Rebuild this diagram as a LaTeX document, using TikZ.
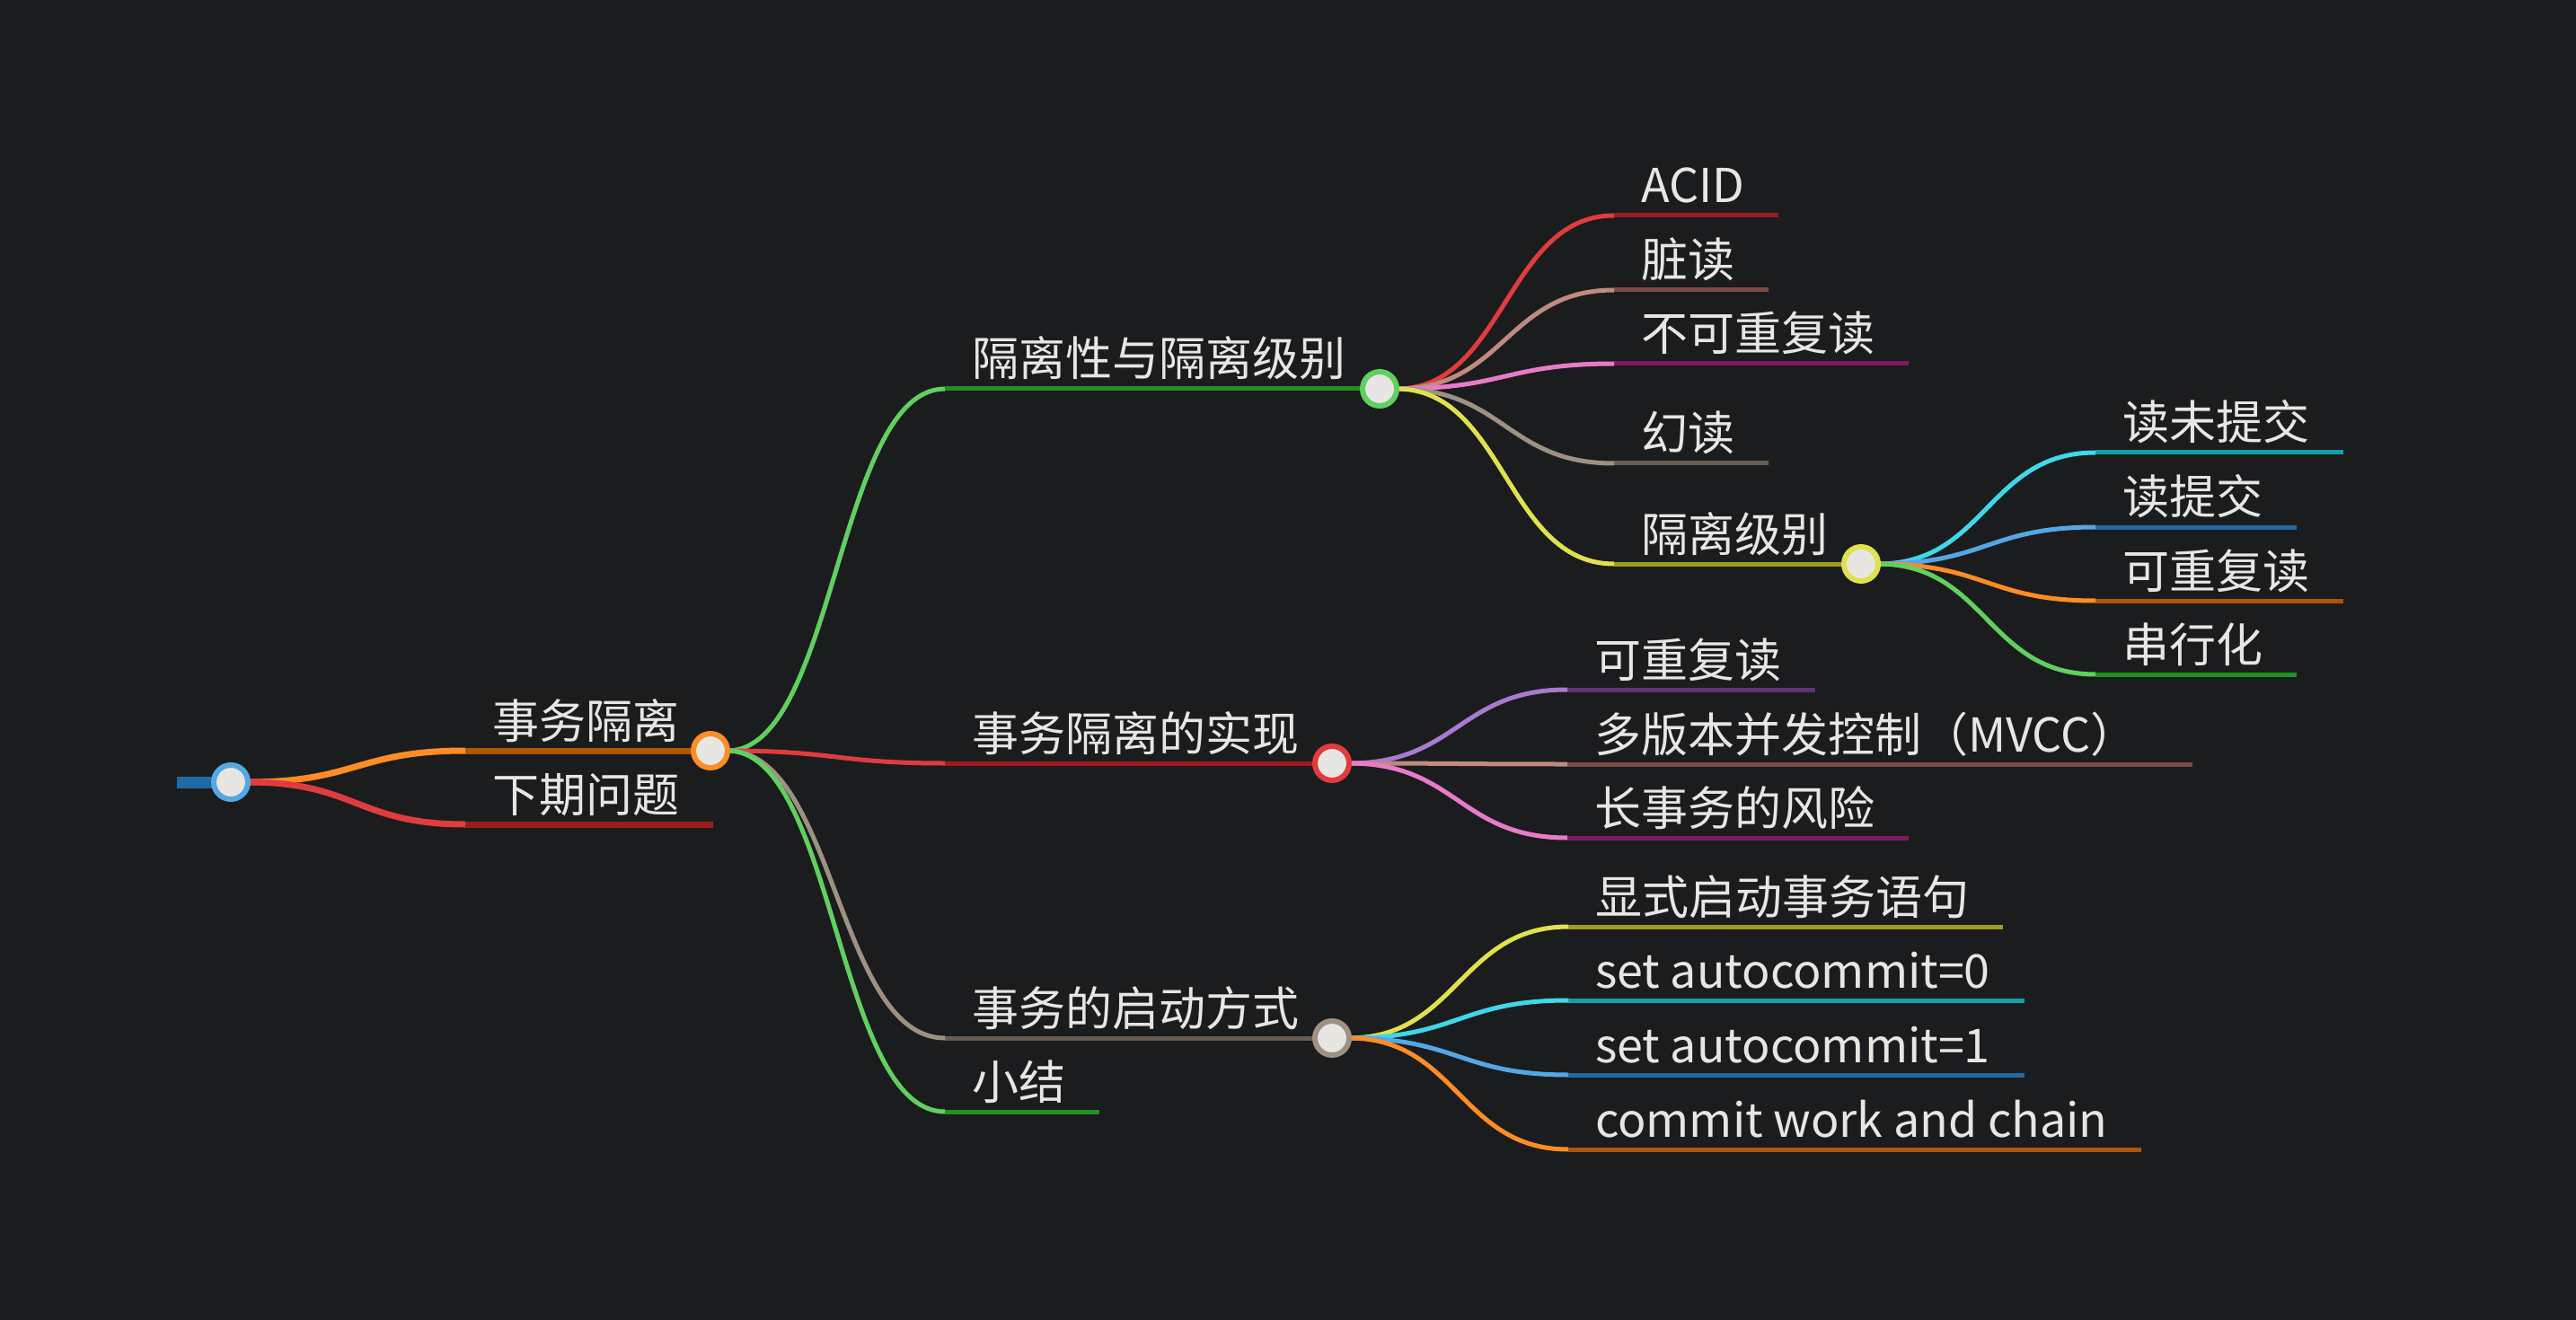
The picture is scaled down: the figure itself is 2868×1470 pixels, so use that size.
\documentclass[tikz,border=0pt]{standalone}
\usepackage{fontspec}
\setmainfont{Noto Sans CJK SC}
\definecolor{mmbg}{HTML}{1B1C1E}
\definecolor{mmdot}{HTML}{E8E6E2}
\definecolor{mmtxt}{HTML}{E8E6E2}
\definecolor{mmblue}{HTML}{53A8E4}
\definecolor{mmbluedk}{HTML}{1F6AA5}
\definecolor{mmor}{HTML}{FF8C25}
\definecolor{mmordk}{HTML}{B05405}
\definecolor{mmred}{HTML}{E03C3E}
\definecolor{mmreddk}{HTML}{9B1C1F}
\definecolor{mmgreen}{HTML}{60D060}
\definecolor{mmgreendk}{HTML}{248F24}
\definecolor{mmtaupe}{HTML}{9D9282}
\definecolor{mmtaupedk}{HTML}{675D52}
\definecolor{mmpurple}{HTML}{A77BD0}
\definecolor{mmpurpledk}{HTML}{5E3478}
\definecolor{mmbrown}{HTML}{BF8B7E}
\definecolor{mmbrowndk}{HTML}{7B4A42}
\definecolor{mmpink}{HTML}{E77BC9}
\definecolor{mmpinkdk}{HTML}{7D1B5E}
\definecolor{mmyellow}{HTML}{E0E14D}
\definecolor{mmyellowdk}{HTML}{9E9E1C}
\definecolor{mmcyan}{HTML}{3FD8EA}
\definecolor{mmcyandk}{HTML}{12A0AA}
\pgfdeclarelayer{bg}
\pgfsetlayers{bg,main}
% leaf: [#1 padding] #2 parent, #3 name, #4 x, #5 y, #6 text, #7 colour, #8 width
\newcommand\mmleaf[8][38]{%
  \coordinate (s#3) at (#4,#5);%
  \node[lbl] (t#3) at (s#3) {#6};%
  \begin{pgfonlayer}{bg}%
    \draw[line width=#8, draw=#7dk] (s#3) -- (s#3 -| t#3.east) -- ++(#1,0);%
    \draw[line width=#8, draw=#7] (#2.east) .. controls ([xshift=60pt]#2.east) and ([xshift=-60pt]s#3) .. (s#3);%
  \end{pgfonlayer}}
% hub: #1 parent, #2 name, #3 x, #4 y, #5 text, #6 colour, #7 width, #8 circle x
\newcommand\mmhub[8]{%
  \coordinate (s#2) at (#3,#4);%
  \node[lbl] (t#2) at (s#2) {#5};%
  \node[dot=#6] (#2) at (#8,#4) {};%
  \begin{pgfonlayer}{bg}%
    \draw[line width=#7, draw=#6dk] (s#2) -- (#2.center);%
    \draw[line width=#7, draw=#6] (#1.east) .. controls ([xshift=60pt]#1.east) and ([xshift=-60pt]s#2) .. (s#2);%
  \end{pgfonlayer}}
\begin{document}
\begin{tikzpicture}[x=0.5pt,y=-0.5pt,
  every node/.style={inner sep=0pt, outer sep=0pt},
  lbl/.style={anchor=base west, xshift=15pt, yshift=7pt, text=mmtxt,
    font=\fontsize{26pt}{30pt}\selectfont},
  dot/.style={circle, draw=#1, fill=mmdot, line width=3pt, minimum size=19pt}]
\begin{pgfonlayer}{bg}
\fill[mmbg] (0,0) rectangle (2868,1470);
\end{pgfonlayer}
\useasboundingbox (0,0) rectangle (2868,1470);
\node[dot=mmblue] (root) at (257,871) {};
\coordinate (rootend) at (197,871);
\begin{pgfonlayer}{bg}
\draw[line width=6.5pt, draw=mmbluedk] (rootend) -- (root.center);
\end{pgfonlayer}
\mmhub{root}{a}{518}{836}{事务隔离}{mmor}{3.5pt}{791}
\mmleaf{root}{b}{518}{918}{下期问题}{mmred}{3.5pt}
\mmhub{a}{aa}{1052}{433}{隔离性与隔离级别}{mmgreen}{2.5pt}{1536}
\mmhub{a}{ab}{1052}{850}{事务隔离的实现}{mmred}{2.5pt}{1483}
\mmhub{a}{ac}{1052}{1156}{事务的启动方式}{mmtaupe}{2.5pt}{1483}
\mmleaf{a}{ad}{1052}{1238}{小结}{mmgreen}{2.5pt}
\mmleaf{aa}{pa}{1797}{240}{ACID}{mmred}{2.5pt}
\mmleaf{aa}{pb}{1797}{323}{脏读}{mmbrown}{2.5pt}
\mmleaf{aa}{pc}{1797}{405}{不可重复读}{mmpink}{2.5pt}
\mmleaf{aa}{pd}{1797}{516}{幻读}{mmtaupe}{2.5pt}
\mmhub{aa}{pe}{1797}{628}{隔离级别}{mmyellow}{2.5pt}{2072}
\mmleaf{pe}{qa}{2333}{504}{读未提交}{mmcyan}{2.5pt}
\mmleaf{pe}{qb}{2333}{587}{读提交}{mmblue}{2.5pt}
\mmleaf{pe}{qc}{2333}{669}{可重复读}{mmor}{2.5pt}
\mmleaf{pe}{qd}{2333}{751}{串行化}{mmgreen}{2.5pt}
\mmleaf{ab}{ra}{1745}{768}{可重复读}{mmpurple}{2.5pt}
\mmleaf[62]{ab}{rb}{1745}{851}{多版本并发控制（MVCC）}{mmbrown}{2.5pt}
\mmleaf{ab}{rc}{1745}{933}{长事务的风险}{mmpink}{2.5pt}
\mmleaf{ac}{ua}{1746}{1032}{显式启动事务语句}{mmyellow}{2.5pt}
\mmleaf{ac}{ub}{1746}{1114}{set autocommit=0}{mmcyan}{2.5pt}
\mmleaf{ac}{uc}{1746}{1197}{set autocommit=1}{mmblue}{2.5pt}
\mmleaf{ac}{ud}{1746}{1280}{commit work and chain}{mmor}{2.5pt}
\end{tikzpicture}
\end{document}
